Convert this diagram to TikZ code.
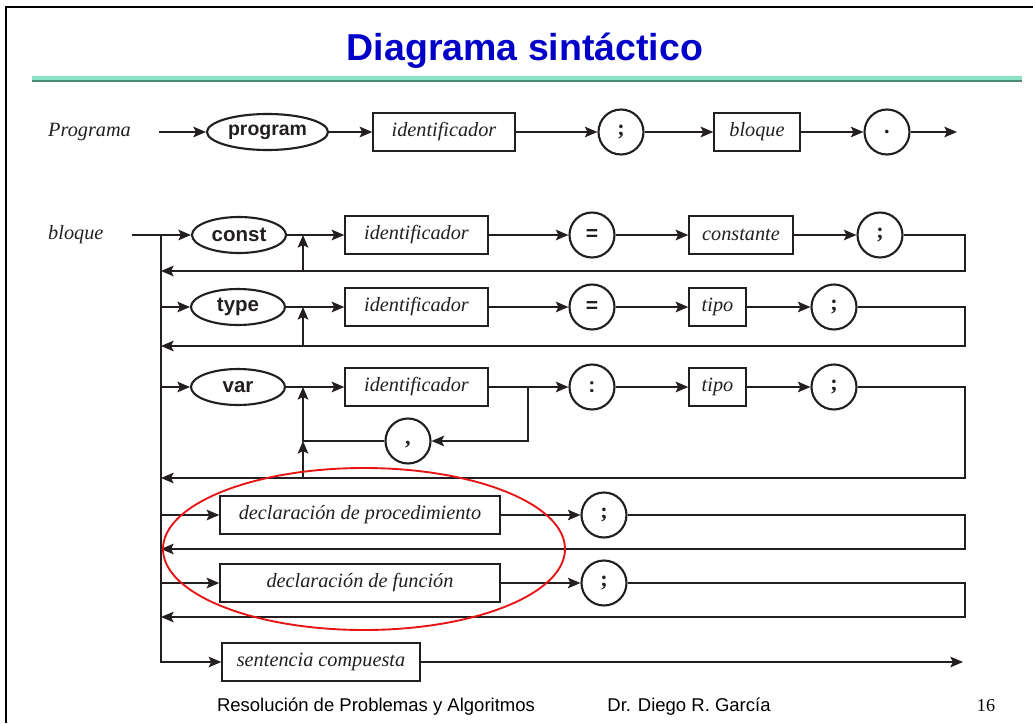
\documentclass[tikz,border=0pt]{standalone}
\usepackage{fontspec}
\setmainfont{Liberation Serif}
\setsansfont{Liberation Sans}
\usetikzlibrary{arrows.meta,shapes.geometric}

\definecolor{titleblue}{RGB}{0,0,200}
\definecolor{mintlight}{RGB}{140,228,198}
\definecolor{mintdark}{RGB}{72,140,118}
\definecolor{inkgray}{RGB}{35,31,32}
\definecolor{markred}{RGB}{230,20,20}

\begin{document}
\begin{tikzpicture}[x=0.03cm,y=-0.03cm,
  >={Stealth[length=0.38cm,width=0.32cm,inset=0.08cm]},
  conn/.style={draw=inkgray, line width=1.25pt},
  ntbox/.style={draw=inkgray, line width=1.25pt, rectangle, inner sep=0pt,
    minimum height=38*0.03cm, text=inkgray,
    font=\fontsize{17.3}{20}\selectfont\itshape},
  kwoval/.style={draw=inkgray, line width=1.8pt, ellipse, inner sep=0pt,
    minimum height=36*0.03cm, minimum width=94*0.03cm, text=inkgray,
    font=\fontsize{17.5}{20}\selectfont\sffamily\bfseries},
  symcirc/.style={draw=inkgray, line width=1.8pt, circle, inner sep=0pt,
    minimum size=45*0.03cm, text=inkgray,
    font=\fontsize{19}{20}\selectfont\bfseries},
  symsans/.style={symcirc, font=\fontsize{18}{20}\selectfont\sffamily\bfseries},
  rulename/.style={anchor=west, inner sep=0pt, text=inkgray,
    font=\fontsize{17.3}{20}\selectfont\itshape},
  footer/.style={anchor=base, inner sep=0pt,
    font=\fontsize{15.8}{18}\selectfont\sffamily}
]
% page and frame
\fill[white] (0,0) rectangle (1033,723);
\useasboundingbox (0,0) rectangle (1033,723);
\draw[line width=2pt] (6,723) -- (6,7) -- (1033,7);

% title and rule
\node[anchor=base, inner sep=0pt, text=titleblue,
  font=\fontsize{32}{36}\selectfont\sffamily\bfseries] (title) at (525,60) {Diagrama sintáctico};
\fill[mintlight] (32,75.5) rectangle (1022,79.5);
\fill[mintdark] (32,79.5) rectangle (1022,81.5);

% ---------- Programa ----------
\node[rulename] (lprog) at (48,132) {Programa};
\coordinate (p0) at (159,132);
\node[kwoval, minimum width=121*0.03cm, font=\fontsize{16.6}{20}\selectfont\sffamily\bfseries] (kprog) at (267.5,132) {program};
\node[ntbox, minimum width=142*0.03cm] (pid) at (444,132) {identificador};
\node[symcirc] (psemi) at (621,132) {;};
\node[ntbox, minimum width=86*0.03cm] (pblq) at (757,132) {bloque};
\node[symcirc] (pdot) at (887,132) {.};
\coordinate (pend) at (957,132);
\draw[conn,->] (p0) -- (kprog);
\draw[conn,->] (kprog) -- (pid);
\draw[conn,->] (pid) -- (psemi);
\draw[conn,->] (psemi) -- (pblq);
\draw[conn,->] (pblq) -- (pdot);
\draw[conn,->] (pdot) -- (pend);

% ---------- bloque ----------
\node[rulename] (lblq) at (48,235) {bloque};
\coordinate (b0) at (132,235);
\coordinate (bj) at (161,235);

% const section
\node[kwoval] (kconst) at (239,235) {const};
\coordinate (cj) at (303,235);
\coordinate (cu) at (303,271);
\node[ntbox, minimum width=143*0.03cm] (cid) at (416.5,235) {identificador};
\node[symsans] (ceq) at (592,235) {=};
\node[ntbox, minimum width=104*0.03cm] (cval) at (741,235) {constante};
\node[symcirc] (csemi) at (880,235) {;};
\coordinate (cr) at (965,271);
\coordinate (cb) at (161,271);
\draw[conn] (b0) -- (bj);
\draw[conn,->] (bj) -- (kconst);
\draw[conn,->] (kconst) -- (cid);
\draw[conn,->] (cid) -- (ceq);
\draw[conn,->] (ceq) -- (cval);
\draw[conn,->] (cval) -- (csemi);
\draw[conn,->] (csemi) -| (cr) -- (cb);
\draw[conn,->] (cu) -- (cj);

% type section
\coordinate (tj) at (161,307);
\node[kwoval] (ktype) at (238,307) {type};
\coordinate (tk) at (303,307);
\coordinate (tu) at (303,346);
\node[ntbox, minimum width=143*0.03cm] (tid) at (416.5,307) {identificador};
\node[symsans] (teq) at (592,307) {=};
\node[ntbox, minimum width=57*0.03cm] (ttype) at (717.5,307) {tipo};
\node[symcirc] (tsemi) at (834,307) {;};
\coordinate (tr) at (965,346);
\coordinate (tb) at (161,346);
\draw[conn,->] (tj) -- (ktype);
\draw[conn,->] (ktype) -- (tid);
\draw[conn,->] (tid) -- (teq);
\draw[conn,->] (teq) -- (ttype);
\draw[conn,->] (ttype) -- (tsemi);
\draw[conn,->] (tsemi) -| (tr) -- (tb);
\draw[conn,->] (tu) -- (tk);

% var section
\coordinate (vj) at (161,387);
\node[kwoval] (kvar) at (238,387) {var};
\coordinate (vk) at (303,387);
\coordinate (vc) at (303,441);
\coordinate (vu) at (303,478);
\node[ntbox, minimum width=143*0.03cm] (vid) at (416.5,387) {identificador};
\coordinate (vbr) at (528,387);
\coordinate (vbd) at (528,441);
\node[symcirc, text height=0.75em, text depth=0.15em] (vcom) at (408,441) {,};
\node[symsans] (vcol) at (592,387) {:};
\node[ntbox, minimum width=57*0.03cm] (vtype) at (717.5,387) {tipo};
\node[symcirc] (vsemi) at (834,387) {;};
\coordinate (vr) at (965,478);
\coordinate (vb) at (161,478);
\draw[conn,->] (vj) -- (kvar);
\draw[conn,->] (kvar) -- (vid);
\draw[conn,->] (vid) -- (vcol);
\draw[conn,->] (vbr) -- (vbd) -- (vcom);
\draw[conn,->] (vcom) -- (vc) -- (vk);
\draw[conn,->] (vu) -- (vc);
\draw[conn,->] (vcol) -- (vtype);
\draw[conn,->] (vtype) -- (vsemi);
\draw[conn,->] (vsemi) -| (vr) -- (vb);

% procedure declarations
\coordinate (dj) at (161,515);
\node[ntbox, minimum width=280*0.03cm] (dproc) at (360,515) {declaración de procedimiento};
\node[symcirc] (dsemi) at (604,515) {;};
\coordinate (dr) at (965,549);
\coordinate (db) at (161,549);
\draw[conn,->] (dj) -- (dproc);
\draw[conn,->] (dproc) -- (dsemi);
\draw[conn,->] (dsemi) -| (dr) -- (db);

% function declarations
\coordinate (fj) at (161,583);
\node[ntbox, minimum width=280*0.03cm] (ffun) at (360,583) {declaración de función};
\node[symcirc] (fsemi) at (604,583) {;};
\coordinate (fr) at (965,617);
\coordinate (fb) at (161,617);
\draw[conn,->] (fj) -- (ffun);
\draw[conn,->] (ffun) -- (fsemi);
\draw[conn,->] (fsemi) -| (fr) -- (fb);

% compound statement
\node[ntbox, minimum width=198*0.03cm] (scomp) at (321,662) {sentencia compuesta};
\coordinate (send) at (963,662);
\draw[conn,->] (bj) |- (scomp);
\draw[conn,->] (scomp) -- (send);

% highlight around the declaration sections
\draw[markred, line width=1.6pt] (364,549) ellipse [x radius=6.03cm, y radius=2.43cm];

% footer
\node[footer] (fttitle) at (376,711) {Resolución de Problemas y Algoritmos};
\node[footer] (ftauthor) at (689,711) {Dr. Diego R. García};
\node[anchor=base, inner sep=0pt, font=\fontsize{15.5}{18}\selectfont] (ftpage) at (986,711) {16};
\end{tikzpicture}
\end{document}
